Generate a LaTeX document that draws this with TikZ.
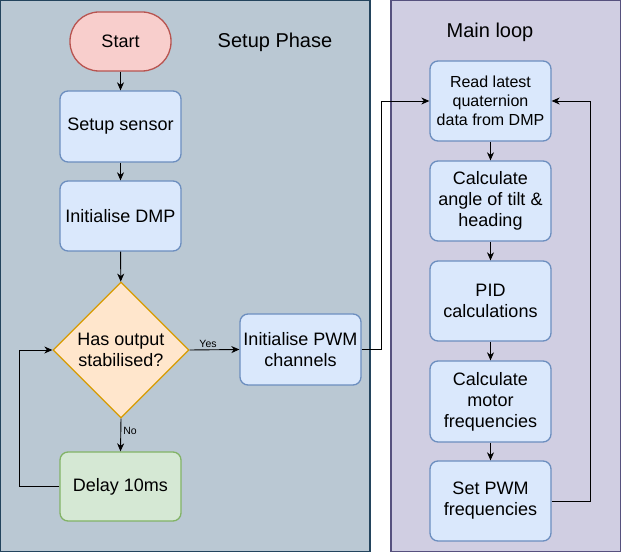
\documentclass[tikz,border=0pt]{standalone}
\usepackage{fontspec}
\setmainfont{Liberation Sans}
\usetikzlibrary{arrows.meta,shapes.geometric}
\definecolor{lpfill}{HTML}{BAC8D3}
\definecolor{lpline}{HTML}{23445D}
\definecolor{rpfill}{HTML}{D0CEE2}
\definecolor{rpline}{HTML}{56517E}
\definecolor{bfill}{HTML}{DAE8FC}
\definecolor{bline}{HTML}{6C8EBF}
\definecolor{ofill}{HTML}{FFE6CC}
\definecolor{oline}{HTML}{D79B00}
\definecolor{gfill}{HTML}{D5E8D4}
\definecolor{gline}{HTML}{82B366}
\definecolor{rfill}{HTML}{F8CECC}
\definecolor{rline}{HTML}{B85450}
\tikzset{
  box/.style={draw=bline, fill=bfill, line width=1.3pt, rounded corners=8pt,
    minimum width=121pt, minimum height=71pt, inner sep=2pt, align=center,
    font=\fontsize{18}{21}\selectfont},
  arr/.style={line width=0.9pt, -{Stealth[length=8pt,width=7pt,inset=2.5pt]}},
  lbl/.style={font=\fontsize{10.5}{12}\selectfont, inner sep=2pt},
  ttl/.style={font=\fontsize{20}{24}\selectfont}
}
\begin{document}
\begin{tikzpicture}[x=1pt,y=-1pt]
\useasboundingbox (0,0) rectangle (622,553);
% panels
\draw[fill=lpfill, draw=lpline, line width=1.3pt] (0.7,0.7) rectangle (370,551.5);
\draw[fill=rpfill, draw=rpline, line width=1.3pt] (391,0.7) rectangle (620.5,551.5);
\node[ttl] (t1) at (275,42) {Setup Phase};
\node[ttl] (t2) at (490,32) {Main loop};
% setup nodes
\node[box, draw=rline, fill=rfill, minimum width=101pt, minimum height=59pt, rounded corners=29pt] (start) at (120.5,41.5) {Start};
\node[box] (sensor) at (120.5,126.5) {Setup sensor};
\node[box, minimum height=70pt] (dmp) at (120.5,216) {Initialise DMP};
\node[diamond, draw=oline, fill=ofill, line width=1.3pt, minimum width=136pt, minimum height=136pt, inner sep=0pt, align=center, font=\fontsize{18}{21}\selectfont] (dec) at (121,350) {Has output\\stabilised?};
\node[box, draw=gline, fill=gfill, minimum height=69pt] (delay) at (120.5,486.5) {Delay 10ms};
\node[box] (pwm) at (300.5,349.5) {Initialise PWM\\channels};
% main loop nodes
\node[box, minimum height=80pt, font=\fontsize{16}{19}\selectfont] (read) at (490.5,101) {Read latest\\quaternion\\data from DMP};
\node[box, minimum height=80pt] (angle) at (490.5,201) {Calculate\\angle of tilt \&\\heading};
\node[box, minimum height=80pt] (pid) at (490.5,301) {PID\\calculations};
\node[box, minimum height=81pt] (motor) at (490.5,401.5) {Calculate\\motor\\frequencies};
\node[box, minimum height=80pt] (setpwm) at (490.5,501) {Set PWM\\frequencies};
% connectors
\draw[arr] (start) -- (sensor);
\draw[arr] (sensor) -- (dmp);
\draw[arr] (dmp) -- (dec);
\draw[arr] (dec.east) -- node[lbl, pos=0.37, above] {Yes} (pwm.west);
\draw[arr] (dec.south) -- node[lbl, pos=0.38, right] {No} (delay.north);
\draw[arr] (delay.west) -- ++(-40,0) |- (dec.west);
\draw[arr] (pwm.east) -- ++(20,0) |- (read.west);
\draw[arr] (read) -- (angle);
\draw[arr] (angle) -- (pid);
\draw[arr] (pid) -- (motor);
\draw[arr] (motor) -- (setpwm);
\draw[arr] (setpwm.east) -- ++(39,0) |- (read.east);
\end{tikzpicture}
\end{document}
